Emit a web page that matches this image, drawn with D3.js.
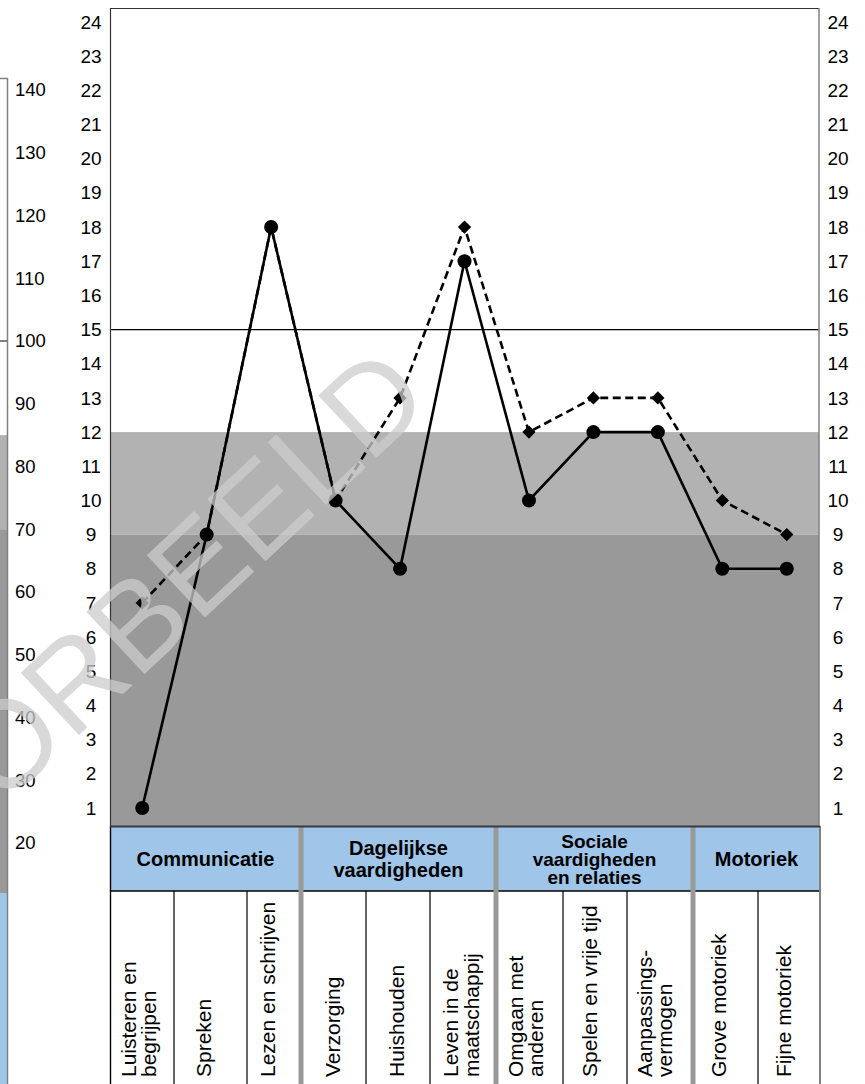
<!DOCTYPE html>
<html>
<head>
<meta charset="utf-8">
<script src="https://cdn.jsdelivr.net/npm/d3@7"></script>
<style>
  body { margin: 0; background: #fff; }
  svg { display: block; font-family: Arial, "Liberation Sans", sans-serif; }
</style>
</head>
<body>
<svg id="chart" width="865" height="1084"></svg>
<script>
// profile scores per subscale (solid line, dots) and the comparison profile (dashed, diamonds)
const scores     = [1, 9, 18, 10, 8, 17, 10, 12, 12, 8, 8];
const scoresPrev = [7, 9, 18, 10, 13, 18, 12, 13, 13, 10, 9];

const subscales = [
  ["Luisteren en", "begrijpen"],
  ["Spreken"],
  ["Lezen en schrijven"],
  ["Verzorging"],
  ["Huishouden"],
  ["Leven in de", "maatschappij"],
  ["Omgaan met", "anderen"],
  ["Spelen en vrije tijd"],
  ["Aanpassings-", "vermogen"],
  ["Grove motoriek"],
  ["Fijne motoriek"]
];

const domains = [
  ["Communicatie"],
  ["Dagelijkse", "vaardigheden"],
  ["Sociale", "vaardigheden", "en relaties"],
  ["Motoriek"]
];
const domainSpan = [3, 3, 3, 2];

const scaleTicks = d3.range(1, 25);                   // 1..24 on both sides
const prevChartTicks = [140, 130, 120, 110, 100, 90, 80, 70, 60, 50, 40, 30, 20];

// band limits (v-scale) and reference line
const bandLight = [9, 12];
const refLine = 15;
const prevBandLight = [70, 85];
const prevRef = 100;

// ---- layout
const W = 865, H = 1084;
const plot = { left: 110, right: 819, top: 8, bottom: 826 };
const tableBottom = H;
const headBottom = 891;
// cell borders of the label table (as drawn, not quite evenly spaced)
const colEdges = [110, 174, 247, 301, 366, 430, 496, 563, 627, 693, 758, 820];

const svg = d3.select('#chart');

const x = d3.scalePoint()
  .domain(d3.range(scores.length))
  .range([plot.left, plot.right])
  .padding(0.5);

const y = d3.scaleLinear()
  .domain([0.473, 24.41])
  .range([plot.bottom, plot.top]);

// the previous chart, cut off at the left edge of the page
const y2 = d3.scaleLinear()
  .domain([20, 140])
  .range([843, 90]);

const left = svg.append('g');
left.append('rect')
  .attr('x', 0).attr('width', 7)
  .attr('y', y2(prevBandLight[1])).attr('height', y2(prevBandLight[0]) - y2(prevBandLight[1]))
  .attr('fill', '#b2b2b2');
left.append('rect')
  .attr('x', 0).attr('width', 7)
  .attr('y', y2(prevBandLight[0])).attr('height', 893 - y2(prevBandLight[0]))
  .attr('fill', '#999999');
left.append('rect')
  .attr('x', 0).attr('width', 7)
  .attr('y', 893).attr('height', H - 893)
  .attr('fill', '#9fc5e8');
left.append('line')
  .attr('x1', 0).attr('x2', 7)
  .attr('y1', y2(prevRef)).attr('y2', y2(prevRef))
  .attr('stroke', '#000').attr('stroke-width', 1);
left.append('path')
  .attr('d', `M0,78.5H7.5V${H}`)
  .attr('fill', 'none').attr('stroke', '#808080').attr('stroke-width', 1.5);

const leftAxis = left.append('g')
  .attr('transform', 'translate(15,0)')
  .call(d3.axisRight(y2).tickValues(prevChartTicks).tickSize(0).tickPadding(0));
leftAxis.select('.domain').remove();
leftAxis.selectAll('text')
  .attr('font-size', 18.5).attr('font-family', 'Arial, "Liberation Sans", sans-serif')
  .attr('fill', '#000');

// ---- plot area
svg.append('rect')
  .attr('x', plot.left).attr('width', plot.right - plot.left)
  .attr('y', y(bandLight[1])).attr('height', y(bandLight[0]) - y(bandLight[1]))
  .attr('fill', '#b2b2b2');
svg.append('rect')
  .attr('x', plot.left).attr('width', plot.right - plot.left)
  .attr('y', y(bandLight[0])).attr('height', plot.bottom - y(bandLight[0]))
  .attr('fill', '#999999');

svg.append('line')
  .attr('x1', plot.left).attr('x2', plot.right)
  .attr('y1', y(refLine)).attr('y2', y(refLine))
  .attr('stroke', '#000').attr('stroke-width', 1.2);

// frame
svg.append('path')
  .attr('d', `M${plot.left + 0.5},${plot.bottom}V${plot.top + 0.5}H${plot.right}`)
  .attr('fill', 'none').attr('stroke', '#333').attr('stroke-width', 1.2);
svg.append('line')
  .attr('x1', plot.right).attr('x2', plot.right)
  .attr('y1', plot.top).attr('y2', plot.bottom)
  .attr('stroke', '#808080').attr('stroke-width', 1.5);

// axes 1..24 left and right, labels centred
function tickAxis(cx) {
  const g = svg.append('g')
    .attr('transform', `translate(${cx},0)`)
    .call(d3.axisLeft(y).tickValues(scaleTicks).tickSize(0).tickPadding(0));
  g.select('.domain').remove();
  g.selectAll('text')
    .attr('text-anchor', 'middle')
    .attr('font-size', 19).attr('font-family', 'Arial, "Liberation Sans", sans-serif')
    .attr('fill', '#000');
}
tickAxis(91);
tickAxis(838);

// lines
const line = d3.line()
  .x((d, i) => x(i))
  .y(d => y(d));

svg.append('path')
  .datum(scoresPrev)
  .attr('d', line)
  .attr('fill', 'none')
  .attr('stroke', '#000')
  .attr('stroke-width', 2.6)
  .attr('stroke-dasharray', '8,4.5');

svg.selectAll('.diamond')
  .data(scoresPrev)
  .join('path')
  .attr('class', 'diamond')
  .attr('transform', (d, i) => `translate(${x(i)},${y(d)}) rotate(45)`)
  .attr('d', d3.symbol(d3.symbolSquare, 88))
  .attr('fill', '#000');

svg.append('path')
  .datum(scores)
  .attr('d', line)
  .attr('fill', 'none')
  .attr('stroke', '#000')
  .attr('stroke-width', 2.6);

svg.selectAll('.dot')
  .data(scores)
  .join('circle')
  .attr('class', 'dot')
  .attr('cx', (d, i) => x(i))
  .attr('cy', d => y(d))
  .attr('r', 7)
  .attr('fill', '#000');

// ---- label table under the plot
const table = svg.append('g');
table.append('rect')
  .attr('x', colEdges[0]).attr('width', colEdges[colEdges.length - 1] - colEdges[0])
  .attr('y', plot.bottom).attr('height', headBottom - plot.bottom)
  .attr('fill', '#9fc5e8');

const groupEdgeIdx = [0];
domainSpan.forEach(s => groupEdgeIdx.push(groupEdgeIdx[groupEdgeIdx.length - 1] + s));

// thin cell borders in the bottom row
colEdges.forEach((e, i) => {
  if (groupEdgeIdx.includes(i)) return;
  table.append('line')
    .attr('x1', e).attr('x2', e)
    .attr('y1', headBottom).attr('y2', tableBottom)
    .attr('stroke', '#000').attr('stroke-width', 1.2);
});

table.append('line')
  .attr('x1', colEdges[0]).attr('x2', colEdges[colEdges.length - 1])
  .attr('y1', headBottom).attr('y2', headBottom)
  .attr('stroke', '#000').attr('stroke-width', 1.5);

// thick grey separators between domains
groupEdgeIdx.slice(1, -1).forEach(i => {
  table.append('line')
    .attr('x1', colEdges[i]).attr('x2', colEdges[i])
    .attr('y1', plot.bottom).attr('y2', tableBottom)
    .attr('stroke', '#999').attr('stroke-width', 5);
});

table.append('line')
  .attr('x1', colEdges[0] + 0.5).attr('x2', colEdges[0] + 0.5)
  .attr('y1', plot.bottom).attr('y2', tableBottom)
  .attr('stroke', '#000').attr('stroke-width', 1.4);
table.append('line')
  .attr('x1', colEdges[colEdges.length - 1]).attr('x2', colEdges[colEdges.length - 1])
  .attr('y1', plot.bottom).attr('y2', tableBottom)
  .attr('stroke', '#808080').attr('stroke-width', 2);
table.append('line')
  .attr('x1', colEdges[0]).attr('x2', colEdges[colEdges.length - 1])
  .attr('y1', plot.bottom + 0.5).attr('y2', plot.bottom + 0.5)
  .attr('stroke', '#3a3a3a').attr('stroke-width', 2);

// domain headings
domains.forEach((lines, k) => {
  const x0 = colEdges[groupEdgeIdx[k]], x1 = colEdges[groupEdgeIdx[k + 1]];
  const lh = lines.length === 3 ? 18 : 22;
  const t = table.append('text')
    .attr('text-anchor', 'middle')
    .attr('font-size', lines.length === 3 ? 19 : 20)
    .attr('font-weight', 'bold')
    .attr('fill', '#000');
  lines.forEach((s, j) => {
    t.append('tspan')
      .attr('x', (x0 + x1) / 2)
      .attr('y', 866 + (j - (lines.length - 1) / 2) * lh)
      .text(s);
  });
});

// rotated subscale labels
subscales.forEach((lines, i) => {
  lines.forEach((s, j) => {
    const bx = x(i) - 2 + 6 + (j - (lines.length - 1) / 2) * 20.5;
    table.append('text')
      .attr('transform', `translate(${bx},1077) rotate(-90)`)
      .attr('font-size', 21)
      .attr('fill', '#000')
      .text(s);
  });
});

// ---- watermark over everything
svg.append('text')
  .attr('transform', 'translate(-130,930) rotate(-43)')
  .attr('font-size', 124)
  .attr('fill', '#cccccc')
  .attr('fill-opacity', 0.75)
  .text('VOORBEELD');
</script>
</body>
</html>
